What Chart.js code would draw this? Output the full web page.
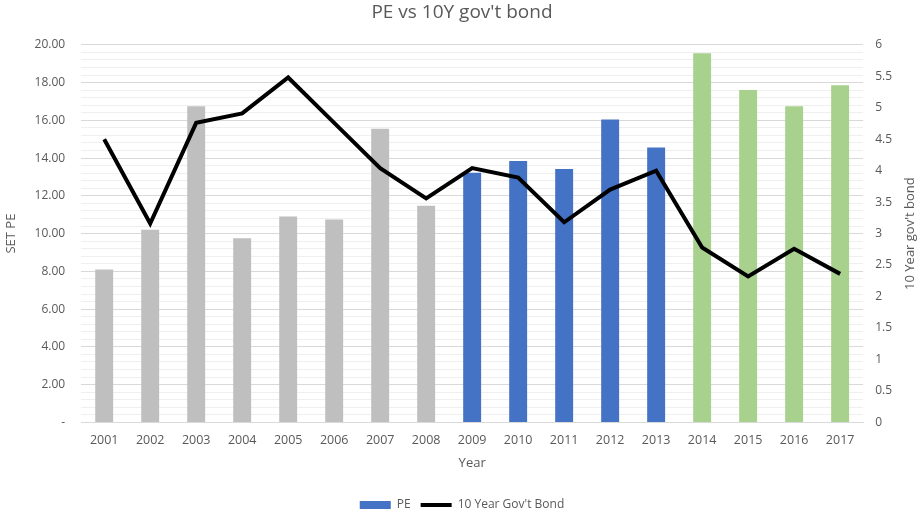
<!DOCTYPE html>
<html>
<head>
<meta charset="utf-8">
<script src="https://cdn.jsdelivr.net/npm/chart.js@4.4.1/dist/chart.umd.min.js"></script>
<style>
    html, body { margin: 0; padding: 0; background: #ffffff; }
    #wrap { width: 924px; height: 518px; }
</style>
</head>
<body>
<div id="wrap"><canvas id="peChart"></canvas></div>
<script>
// Data
const years = ['2001', '2002', '2003', '2004', '2005', '2006', '2007', '2008', '2009',
    '2010', '2011', '2012', '2013', '2014', '2015', '2016', '2017'];
const setPE = [8.1, 10.2, 16.75, 9.75, 10.9, 10.75, 15.55, 11.48, 13.22,
    13.85, 13.42, 16.05, 14.56, 19.55, 17.6, 16.74, 17.86];
const bondYield = [4.5, 3.16, 4.76, 4.91, 5.48, 4.76, 4.04, 3.56, 4.04,
    3.89, 3.18, 3.7, 4.0, 2.78, 2.32, 2.76, 2.36];

const textColor = '#595959';
const fontFamily = '"Open Sans", "Noto Sans", sans-serif';
const rightTitle = "10 Year gov't bond";

// bars coloured by period
function barColor(year) {
    const y = parseInt(year, 10);
    if (y <= 2008) return '#BFBFBF';
    if (y <= 2013) return '#4472C4';
    return '#A9D18E';
}

function isMajor(v) {
    return Math.abs(v / 2 - Math.round(v / 2)) < 1e-6;
}

// right axis title reads bottom-to-top like the left one
const rightTitlePlugin = {
    id: 'rightTitle',
    afterDraw(chart) {
        const c = chart.ctx;
        const area = chart.chartArea;
        c.save();
        c.translate(910, (area.top + area.bottom) / 2);
        c.rotate(-Math.PI / 2);
        c.fillStyle = textColor;
        c.font = '13px ' + fontFamily;
        c.textAlign = 'center';
        c.textBaseline = 'middle';
        c.fillText(rightTitle, 0, 0);
        c.restore();
    }
};

const ctx = document.getElementById('peChart').getContext('2d');
const peChart = new Chart(ctx, {
    type: 'bar',
    data: {
        labels: years,
        datasets: [
            {
                type: 'bar',
                label: 'PE',
                data: setPE,
                backgroundColor: years.map(barColor),
                yAxisID: 'y',
                barPercentage: 0.39,
                categoryPercentage: 1,
                order: 1
            },
            {
                type: 'line',
                label: "10 Year Gov't Bond",
                data: bondYield,
                borderColor: '#000000',
                backgroundColor: '#000000',
                borderWidth: 4,
                pointRadius: 0,
                tension: 0,
                yAxisID: 'y1',
                order: 0
            }
        ]
    },
    plugins: [rightTitlePlugin],
    options: {
        responsive: true,
        maintainAspectRatio: false,
        animation: false,
        layout: {
            padding: { left: 0, right: 0, top: 0, bottom: -3 }
        },
        plugins: {
            title: {
                display: true,
                text: "PE vs 10Y gov't bond",
                color: textColor,
                font: { family: fontFamily, size: 19, weight: 'normal' },
                padding: { top: 1, bottom: 21 }
            },
            legend: {
                position: 'bottom',
                labels: {
                    color: textColor,
                    font: { family: fontFamily, size: 12 },
                    usePointStyle: true,
                    pointStyleWidth: 31,
                    boxHeight: 8,
                    padding: 10,
                    generateLabels: function () {
                        return [
                            {
                                text: 'PE',
                                fillStyle: '#4472C4',
                                strokeStyle: '#4472C4',
                                lineWidth: 0,
                                pointStyle: 'rect',
                                fontColor: textColor,
                                datasetIndex: 0
                            },
                            {
                                text: "10 Year Gov't Bond",
                                fillStyle: '#000000',
                                strokeStyle: '#000000',
                                lineWidth: 4,
                                pointStyle: 'line',
                                fontColor: textColor,
                                datasetIndex: 1
                            }
                        ];
                    }
                }
            },
            tooltip: { enabled: false }
        },
        scales: {
            x: {
                grid: { display: false },
                border: { color: '#d9d9d9' },
                ticks: {
                    color: textColor,
                    font: { family: fontFamily, size: 12.5 },
                    padding: 3,
                    maxRotation: 0
                },
                title: {
                    display: true,
                    text: 'Year',
                    color: textColor,
                    font: { family: fontFamily, size: 13 },
                    padding: { top: 4, bottom: 18 }
                }
            },
            y: {
                position: 'left',
                min: 0,
                max: 20,
                border: { display: false },
                grid: {
                    drawTicks: false,
                    color: function (c) {
                        return isMajor(c.tick.value) ? '#d9d9d9' : '#efefef';
                    },
                    lineWidth: 1
                },
                ticks: {
                    stepSize: 0.4,
                    autoSkip: false,
                    padding: 16,
                    color: textColor,
                    font: { family: fontFamily, size: 12 },
                    callback: function (v) {
                        if (!isMajor(v)) return '';
                        if (Math.abs(v) < 1e-6) return '-';
                        return Number(v).toFixed(2);
                    }
                },
                title: {
                    display: true,
                    text: 'SET PE',
                    color: textColor,
                    font: { family: fontFamily, size: 13 },
                    padding: { top: 3, bottom: 0 }
                }
            },
            y1: {
                position: 'right',
                min: 0,
                max: 6,
                border: { display: false },
                grid: { display: false, drawOnChartArea: false, drawTicks: false },
                ticks: {
                    stepSize: 0.5,
                    padding: 12,
                    color: textColor,
                    font: { family: fontFamily, size: 12 },
                    callback: function (v) { return String(v); }
                },
                // leave room for the hand-drawn right title
                afterFit: function (scale) {
                    scale.width += 20;
                }
            }
        }
    }
});
</script>
</body>
</html>
